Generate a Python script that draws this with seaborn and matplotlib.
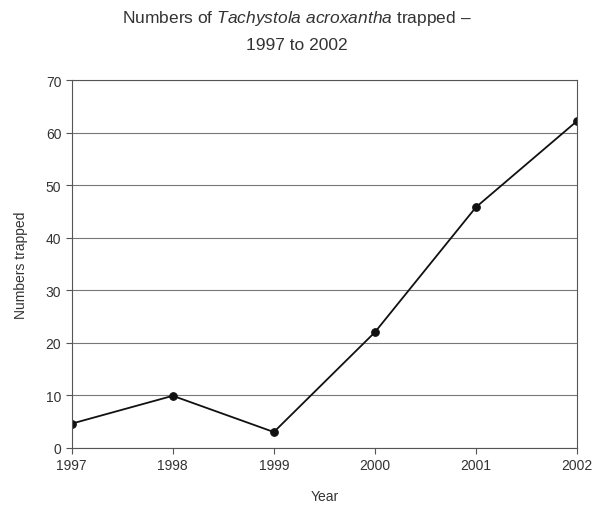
import matplotlib
matplotlib.use('Agg')
import matplotlib.pyplot as plt
import seaborn as sns
import pandas as pd

# 資料
years = [1997, 1998, 1999, 2000, 2001, 2002]
trapped = [4.6, 9.9, 3.0, 22, 45.8, 62.2]
y_ticks = [0, 10, 20, 30, 40, 50, 60, 70]

sns.set_style('white')
plt.rcParams['font.family'] = ['Liberation Sans', 'DejaVu Sans']
plt.rcParams['mathtext.fontset'] = 'custom'
plt.rcParams['mathtext.it'] = 'Liberation Sans:italic'
plt.rcParams['mathtext.rm'] = 'Liberation Sans'

df = pd.DataFrame({'Year': years, 'Numbers trapped': trapped})

fig = plt.figure(figsize=(5.93, 5.10), dpi=100)
ax = fig.add_axes([0.121, 0.12, 0.852, 0.721])

sns.lineplot(data=df, x='Year', y='Numbers trapped', ax=ax, color='#111111',
             linewidth=1.3, marker='o', markersize=5.5, markeredgecolor='#111111')

ax.set_xlim(1997, 2002)
ax.set_ylim(0, 70)
ax.set_yticks(y_ticks)
ax.set_xticks(years)
ax.yaxis.grid(True, color='#777777', linewidth=0.8)
ax.set_axisbelow(True)
for s in ['left', 'right', 'bottom', 'top']:
    ax.spines[s].set_color('#555555')
    ax.spines[s].set_linewidth(0.8)
ax.tick_params(axis='both', direction='out', length=4, width=0.8, color='#555555',
               labelsize=10, labelcolor='#333333', left=True, bottom=True)
ax.set_xlabel('Year', fontsize=10, color='#333333', labelpad=12)
ax.set_ylabel('Numbers trapped', fontsize=10, color='#333333', labelpad=13)

fig.text(0.5, 0.963, r'Numbers of $\it{Tachystola\ acroxantha}$ trapped –',
         ha='center', va='center', fontsize=12.5, color='#333333')
fig.text(0.5, 0.910, '1997 to 2002', ha='center', va='center', fontsize=12.5,
         color='#333333')

fig.savefig('out.png', dpi=100)
